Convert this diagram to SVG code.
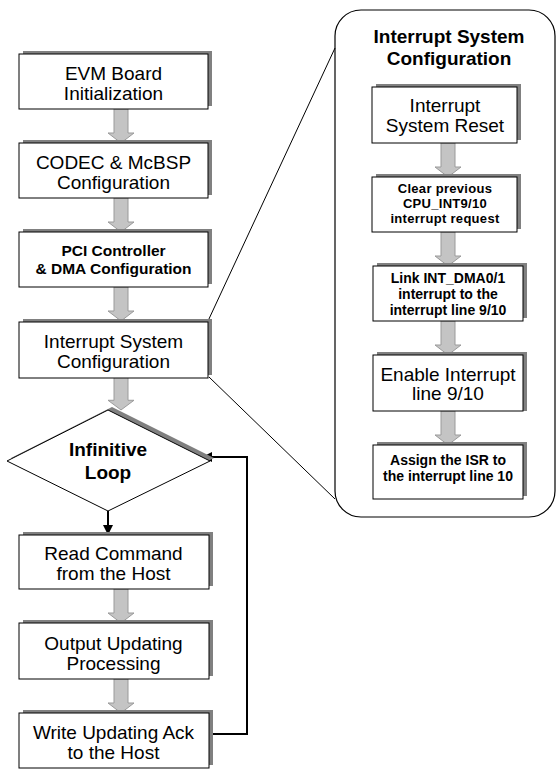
<svg xmlns="http://www.w3.org/2000/svg" xmlns:xlink="http://www.w3.org/1999/xlink" width="557" height="769" viewBox="0 0 557 769">
  <style>
    .box { fill: #ffffff; stroke: #000000; stroke-width: 1; }
    .shadow { fill: #808080; stroke: none; }
    .panel { fill: #ffffff; stroke: #000000; stroke-width: 1.2; }
    .t { font-family: "Liberation Sans", Arial, sans-serif; fill: #000000; text-anchor: middle; }
    .big { font-size: 19px; }
    .title { font-size: 19px; font-weight: bold; }
    .mid { font-size: 15.5px; font-weight: bold; }
    .small { font-size: 14px; font-weight: bold; }
    .tiny { font-size: 13px; font-weight: bold; letter-spacing: 0.3px; }
    .flow { fill: none; stroke: #000000; stroke-width: 2; }
    .zoomline { fill: none; stroke: #000000; stroke-width: 1; }
    .garrow { fill: #c4c4c4; stroke: #9a9a9a; stroke-width: 1; }
  </style>
  <defs>
    <!-- wide grey block arrow, 34 px long, origin at top centre -->
    <path id="gArrow" class="garrow" d="M-7,0 H7 V24 H13 L0,34 L-13,24 H-7 Z"/>
    <marker id="blackHead" viewBox="0 0 10 10" refX="10" refY="5" markerWidth="5" markerHeight="5" orient="auto" markerUnits="strokeWidth">
      <path d="M0,0 L10,5 L0,10 Z" fill="#000000"/>
    </marker>
  </defs>

  <rect width="557" height="769" fill="#ffffff"/>

  <!-- detail panel with its zoom lines -->
  <g id="detail-panel">
    <rect class="panel" x="335" y="10" width="220" height="507" rx="26" ry="26"/>
    <text class="t title" x="449" y="43">Interrupt System</text>
    <text class="t title" x="449" y="65">Configuration</text>
  </g>

  <g id="connectors">
    <!-- zoom lines from the main step to the detail panel -->
    <line class="zoomline" x1="208" y1="321" x2="335" y2="48"/>
    <line class="zoomline" x1="209" y1="377" x2="335" y2="499"/>

    <!-- main column block arrows -->
    <use xlink:href="#gArrow" href="#gArrow" x="121" y="109"/>
    <use xlink:href="#gArrow" href="#gArrow" x="121" y="198"/>
    <use xlink:href="#gArrow" href="#gArrow" x="121" y="287"/>
    <use xlink:href="#gArrow" href="#gArrow" transform="translate(121,377) scale(1,0.97)"/>
    <use xlink:href="#gArrow" href="#gArrow" x="121" y="589"/>
    <use xlink:href="#gArrow" href="#gArrow" x="121" y="679"/>

    <!-- detail panel block arrows -->
    <use xlink:href="#gArrow" href="#gArrow" x="448" y="143"/>
    <use xlink:href="#gArrow" href="#gArrow" x="448" y="232"/>
    <use xlink:href="#gArrow" href="#gArrow" x="448" y="321"/>
    <use xlink:href="#gArrow" href="#gArrow" x="448" y="411"/>

    <!-- loop arrows -->
    <line class="flow" x1="108" y1="511" x2="108" y2="535" marker-end="url(#blackHead)"/>
    <polyline class="flow" points="209,734 247,734 247,457 202,457" marker-end="url(#blackHead)"/>
  </g>

  <!-- main column -->
  <g id="evm-init">
    <rect class="shadow" x="23" y="51" width="189" height="55"/>
    <rect class="box" x="19" y="54" width="189" height="55"/>
    <text class="t big" x="113.5" y="80">EVM Board</text>
    <text class="t big" x="113.5" y="100">Initialization</text>
  </g>

  <g id="codec-config">
    <rect class="shadow" x="23" y="140" width="189" height="55"/>
    <rect class="box" x="19" y="143" width="189" height="55"/>
    <text class="t big" x="113.5" y="169">CODEC &amp; McBSP</text>
    <text class="t big" x="113.5" y="189">Configuration</text>
  </g>

  <g id="pci-dma-config">
    <rect class="shadow" x="23" y="229" width="189" height="55"/>
    <rect class="box" x="19" y="232" width="189" height="55"/>
    <text class="t mid" x="113.5" y="256">PCI Controller</text>
    <text class="t mid" x="113.5" y="274">&amp; DMA Configuration</text>
  </g>

  <g id="interrupt-config">
    <rect class="shadow" x="23" y="319" width="189" height="56"/>
    <rect class="box" x="19" y="322" width="189" height="56"/>
    <text class="t big" x="113.5" y="348">Interrupt System</text>
    <text class="t big" x="113.5" y="368">Configuration</text>
  </g>

  <g id="infinitive-loop">
    <polygon class="shadow" points="112,407 214,458 112,508 11,458"/>
    <polygon class="box" points="108,410 210,461 108,511 7,461"/>
    <text class="t title" x="108" y="456">Infinitive</text>
    <text class="t title" x="108" y="479">Loop</text>
  </g>

  <g id="read-command">
    <rect class="shadow" x="23" y="532" width="190" height="54"/>
    <rect class="box" x="19" y="535" width="190" height="54"/>
    <text class="t big" x="113.5" y="560">Read Command</text>
    <text class="t big" x="113.5" y="580">from the Host</text>
  </g>

  <g id="output-updating">
    <rect class="shadow" x="23" y="620" width="190" height="56"/>
    <rect class="box" x="19" y="623" width="190" height="56"/>
    <text class="t big" x="113.5" y="650">Output Updating</text>
    <text class="t big" x="113.5" y="670">Processing</text>
  </g>

  <g id="write-ack">
    <rect class="shadow" x="23" y="710" width="190" height="55"/>
    <rect class="box" x="19" y="713" width="190" height="55"/>
    <text class="t big" x="113.5" y="739">Write Updating Ack</text>
    <text class="t big" x="113.5" y="759">to the Host</text>
  </g>

  <!-- detail panel steps -->
  <g id="int-reset">
    <rect class="shadow" x="376" y="84" width="145" height="56"/>
    <rect class="box" x="372" y="87" width="145" height="56"/>
    <text class="t big" x="445" y="112">Interrupt</text>
    <text class="t big" x="445" y="132">System Reset</text>
  </g>

  <g id="clear-request">
    <rect class="shadow" x="376" y="174" width="145" height="55"/>
    <rect class="box" x="372" y="177" width="145" height="55"/>
    <text class="t tiny" x="445" y="193">Clear previous</text>
    <text class="t tiny" x="445" y="208">CPU_INT9/10</text>
    <text class="t tiny" x="445" y="223">interrupt request</text>
  </g>

  <g id="link-dma">
    <rect class="shadow" x="377" y="263" width="150" height="55"/>
    <rect class="box" x="373" y="266" width="150" height="55"/>
    <text class="t small" x="448" y="283">Link INT_DMA0/1</text>
    <text class="t small" x="448" y="299">interrupt to the</text>
    <text class="t small" x="448" y="315">interrupt line 9/10</text>
  </g>

  <g id="enable-line">
    <rect class="shadow" x="377" y="352" width="150" height="59"/>
    <rect class="box" x="373" y="355" width="150" height="56"/>
    <text class="t big" x="448" y="381">Enable Interrupt</text>
    <text class="t big" x="448" y="400">line 9/10</text>
  </g>

  <g id="assign-isr">
    <rect class="shadow" x="377" y="442" width="150" height="54"/>
    <rect class="box" x="373" y="445" width="150" height="54"/>
    <text class="t small" x="448" y="465">Assign the ISR to</text>
    <text class="t small" x="448" y="481">the interrupt line 10</text>
  </g>
</svg>
